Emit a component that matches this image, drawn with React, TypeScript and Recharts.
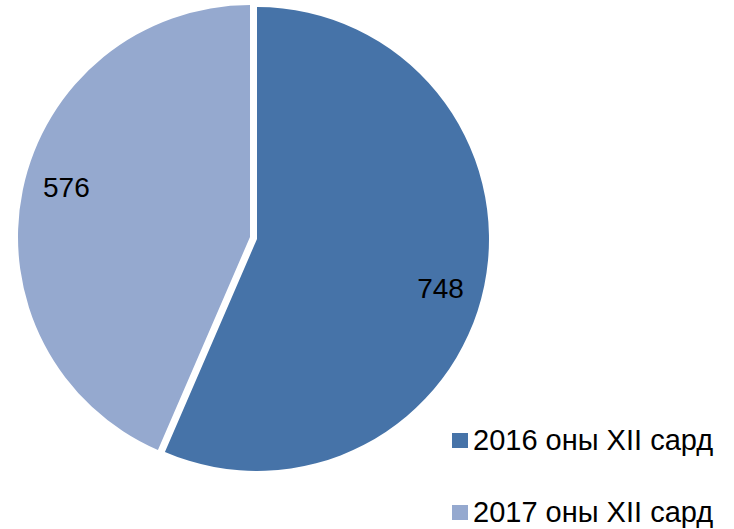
import React from 'react';
import { PieChart, Pie, Cell, Legend } from 'recharts';

const categories = ['2016 оны XII сард', '2017 оны XII сард'];
const values = [748, 576];
const colors = ['#4673A8', '#95A9CF'];

const data = categories.map((name, i) => ({ name, value: values[i] }));

const RAD = Math.PI / 180;

const makeLabel = (showIndex: number) => (props: any) => {
  const { cx, cy, midAngle, outerRadius, index, value } = props;
  if (index !== showIndex) return null;
  const r = outerRadius * 0.82;
  const a = (midAngle - 3.5) * RAD;
  const x = cx + r * Math.cos(-a);
  const y = cy + r * Math.sin(-a);
  return (
    <text x={x} y={y} textAnchor="middle" dominantBaseline="central" fontSize={28} fill="#000" fontFamily="'Liberation Sans', Arial, sans-serif">
      {value}
    </text>
  );
};

const renderLegend = () => {
  return (
    <div style={{ fontFamily: "'Liberation Sans', Arial, sans-serif" }}>
      {categories.map((name, i) => (
        <div key={i} style={{ display: 'flex', alignItems: 'center', height: 30, marginBottom: i === 0 ? 42 : 0 }}>
          <span style={{ display: 'inline-block', width: 16, height: 15, background: colors[i], marginRight: 5 }} />
          <span style={{ fontSize: 29, lineHeight: '30px', color: '#000', whiteSpace: 'nowrap' }}>{name}</span>
        </div>
      ))}
    </div>
  );
};

export default function App() {
  return (
    <div style={{ position: 'absolute', left: 0, top: 0, background: '#fff' }}>
      <PieChart width={734} height={529} margin={{ top: 0, right: 0, bottom: 0, left: 0 }}>
        <Pie
          data={data}
          dataKey="value"
          nameKey="name"
          cx={257}
          cy={239}
          outerRadius={232}
          startAngle={90}
          endAngle={-270}
          stroke="none"
          isAnimationActive={false}
          label={makeLabel(0)}
          labelLine={false}
          legendType="square"
        >
          {data.map((d, i) => (
            <Cell key={i} fill={i === 0 ? colors[0] : 'transparent'} />
          ))}
        </Pie>
        <Pie
          data={data}
          dataKey="value"
          nameKey="name"
          cx={250}
          cy={237}
          outerRadius={232}
          startAngle={90}
          endAngle={-270}
          stroke="none"
          isAnimationActive={false}
          label={makeLabel(1)}
          labelLine={false}
          legendType="none"
        >
          {data.map((d, i) => (
            <Cell key={i} fill={i === 1 ? colors[1] : 'transparent'} />
          ))}
        </Pie>
        <Legend
          content={renderLegend}
          wrapperStyle={{ position: 'absolute', left: 452, top: 425, width: 282 }}
        />
      </PieChart>
    </div>
  );
}
